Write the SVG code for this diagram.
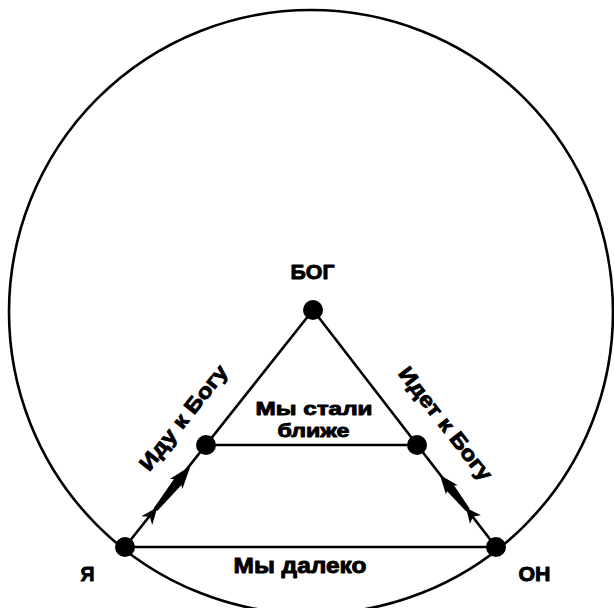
<svg xmlns="http://www.w3.org/2000/svg" width="614" height="608" viewBox="0 0 614 608">
<style>
.ln{stroke:#000;stroke-width:2.6;fill:none;stroke-linecap:round}
.dot{fill:#000}
.t{font-family:"Liberation Sans",Arial,sans-serif;font-weight:bold;font-size:21px;fill:#000;stroke:#000;stroke-width:0.9;stroke-linejoin:round}
.ar{fill:#000}
</style>
<defs>
<g id="arrowL">
<polygon class="ar" points="0,0 -23,-8 -17,0 -23,8"/>
<polygon class="ar" points="-17,-5 -56,-2.2 -56,2.2 -17,5"/>
<polygon class="ar" points="-53,0 -70,-7 -65,0 -70,7"/>
</g>
<g id="arrowR">
<polygon class="ar" points="0,0 -19,-7.5 -14,0 -19,7.5"/>
<polygon class="ar" points="-14,-4.8 -45,-2.2 -45,2.2 -14,4.8"/>
<polygon class="ar" points="-42,0 -57,-7 -53,0 -57,7"/>
</g>
</defs>
<rect width="614" height="608" fill="#fff"/>
<circle class="ln" cx="311" cy="312" r="302"/>
<g id="connectors">
<line class="ln" x1="125" y1="547" x2="313" y2="310"/>
<line class="ln" x1="496" y1="547" x2="313" y2="310"/>
<line class="ln" x1="206" y1="445" x2="417" y2="445"/>
<line class="ln" x1="125" y1="547" x2="496" y2="547"/>
<use href="#arrowL" transform="translate(190.5,466) rotate(-51.3)"/>
<use href="#arrowR" transform="translate(440,475) rotate(-128.5)"/>
<text class="t" x="189" y="422" text-anchor="middle" textLength="128" lengthAdjust="spacingAndGlyphs" transform="rotate(-51.6 189 422)">Иду к Богу</text>
<text class="t" x="440" y="428" text-anchor="middle" textLength="138" lengthAdjust="spacingAndGlyphs" transform="rotate(52 440 428)">Идет к Богу</text>
<text class="t" text-anchor="middle" style="font-size:19px"><tspan x="314" y="415" textLength="117" lengthAdjust="spacingAndGlyphs">Мы стали</tspan><tspan x="313.5" y="437" textLength="72" lengthAdjust="spacingAndGlyphs">ближе</tspan></text>
<text class="t" x="300" y="573" text-anchor="middle" style="font-size:22px" textLength="133" lengthAdjust="spacingAndGlyphs">Мы далеко</text>
</g>
<g id="node-bog">
<circle class="dot" cx="313" cy="310" r="10"/>
<text class="t" x="312.5" y="279" text-anchor="middle" textLength="44" lengthAdjust="spacingAndGlyphs">БОГ</text>
</g>
<g id="node-ya">
<circle class="dot" cx="125" cy="547" r="10"/>
<text class="t" x="80.5" y="581" textLength="14" lengthAdjust="spacingAndGlyphs">Я</text>
</g>
<g id="node-on">
<circle class="dot" cx="496" cy="547" r="10"/>
<text class="t" x="518.5" y="581" textLength="32" lengthAdjust="spacingAndGlyphs">ОН</text>
</g>
<g id="node-mid-left">
<circle class="dot" cx="206" cy="445" r="10"/>
</g>
<g id="node-mid-right">
<circle class="dot" cx="417" cy="445" r="10"/>
</g>
</svg>
